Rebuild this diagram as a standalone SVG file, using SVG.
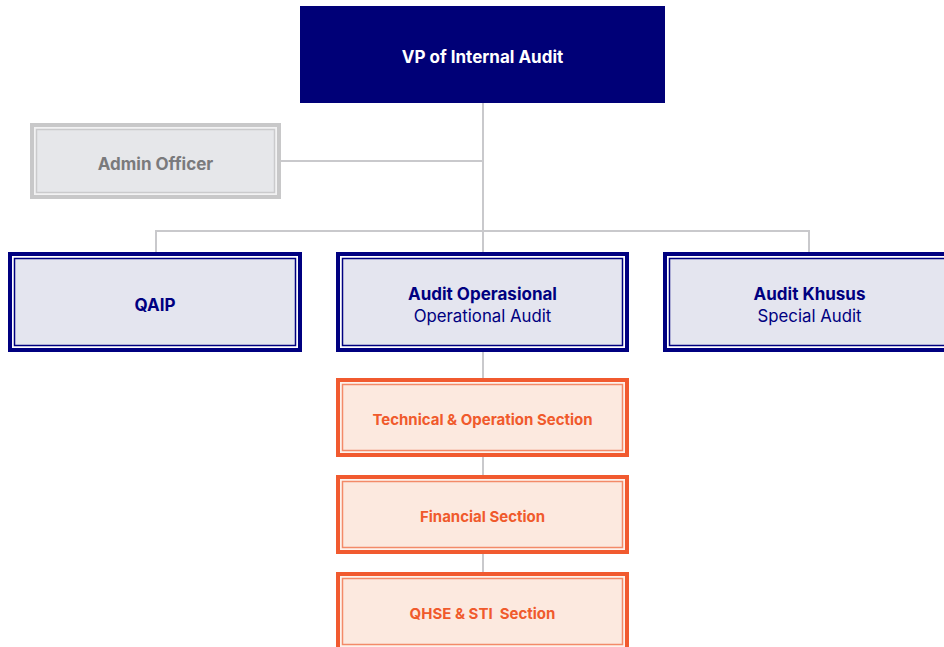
<svg xmlns="http://www.w3.org/2000/svg" width="944" height="647" viewBox="0 0 944 647">
<style>
text{font-family:Inter,"Liberation Sans",sans-serif;text-anchor:middle}
.b{font-weight:700}
.conn{stroke:#c9c9cc;stroke-width:2;fill:none}
.nvo{fill:#ffffff;stroke:#000080;stroke-width:4}
.nvi{fill:#e4e5ef;stroke:#000080;stroke-width:1.5}
.nvt{fill:#000080}
.oro{fill:#fdf2ec;stroke:#f15a2f;stroke-width:4}
.ori{fill:#fce9df;stroke:#f38a68;stroke-width:1.5}
.ort{fill:#f05a2c;font-size:15px;font-weight:700}
.gro{fill:#f2f2f3;stroke:#c8c8c9;stroke-width:4}
.gri{fill:#e6e7ea;stroke:#cacacc;stroke-width:1.5}
</style>
<g id="connectors">
<path class="conn" d="M483 103V378M281 161H483M156 253V231H809V253M483 457V475M483 554V572"/>
</g>
<g id="vp">
<rect x="300" y="6" width="365" height="97" fill="#000077"/>
<text x="482.5" y="63" class="b" font-size="17" fill="#ffffff">VP of Internal Audit</text>
</g>
<g id="admin">
<rect class="gro" x="32" y="125" width="247" height="72"/>
<rect class="gri" x="36.5" y="129.5" width="238" height="63"/>
<text x="155.5" y="169.5" class="b" font-size="17" fill="#7a7a7c">Admin Officer</text>
</g>
<g id="qaip">
<rect class="nvo" x="10" y="254" width="290" height="96"/>
<rect class="nvi" x="14.5" y="258.5" width="281" height="87"/>
<text x="155" y="311" class="b nvt" font-size="17">QAIP</text>
</g>
<g id="audit-operasional">
<rect class="nvo" x="338" y="254" width="289" height="96"/>
<rect class="nvi" x="342.5" y="258.5" width="280" height="87"/>
<text x="482.5" y="300" class="b nvt" font-size="17">Audit Operasional</text>
<text x="482.5" y="322" class="nvt" font-size="16.8">Operational Audit</text>
</g>
<g id="audit-khusus">
<rect class="nvo" x="665" y="254" width="289" height="96"/>
<rect class="nvi" x="669.5" y="258.5" width="280" height="87"/>
<text x="809.5" y="300" class="b nvt" font-size="17">Audit Khusus</text>
<text x="809.5" y="322" class="nvt" font-size="16.8">Special Audit</text>
</g>
<g id="technical-operation">
<rect class="oro" x="338" y="380" width="289" height="75"/>
<rect class="ori" x="342.5" y="384.5" width="280" height="66"/>
<text x="482.5" y="425" class="ort">Technical &amp; Operation Section</text>
</g>
<g id="financial">
<rect class="oro" x="338" y="477" width="289" height="75"/>
<rect class="ori" x="342.5" y="481.5" width="280" height="66"/>
<text x="482.5" y="522" class="ort">Financial Section</text>
</g>
<g id="qhse-sti">
<rect class="oro" x="338" y="574" width="289" height="75"/>
<rect class="ori" x="342.5" y="578.5" width="280" height="66"/>
<text x="482.5" y="619" class="ort" xml:space="preserve">QHSE &amp; STI  Section</text>
</g>
</svg>
